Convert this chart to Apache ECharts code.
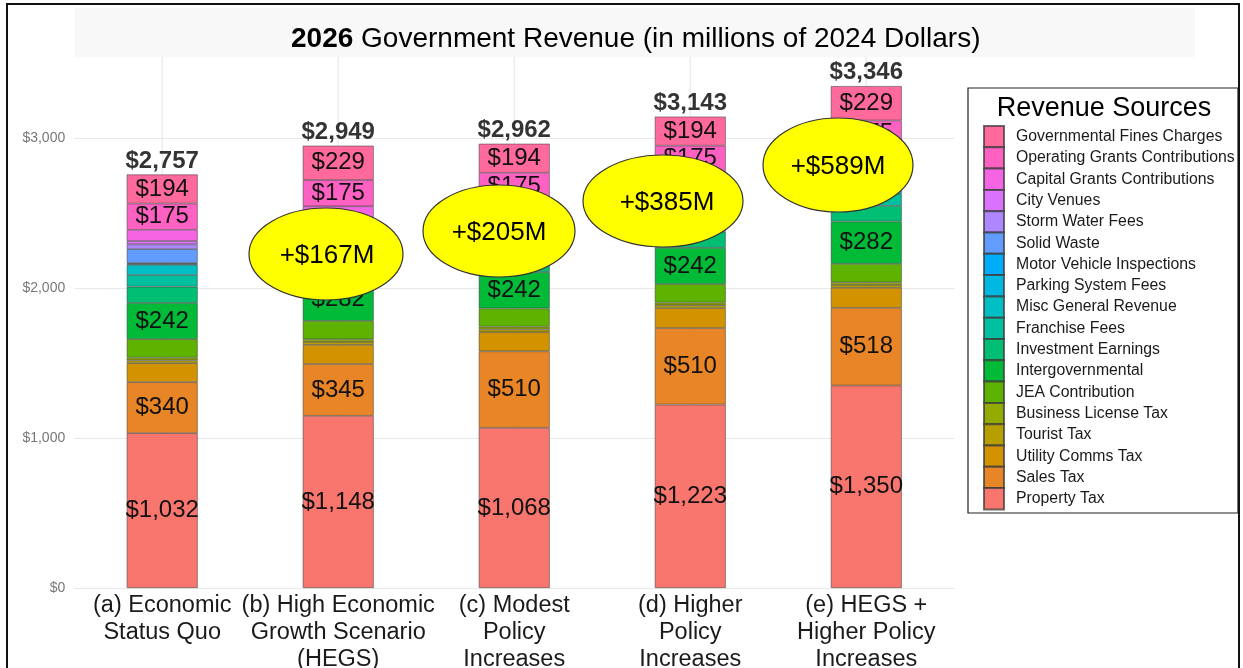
<!DOCTYPE html>
<html>
<head>
<meta charset="utf-8">
<script src="https://cdn.jsdelivr.net/npm/echarts@6/dist/echarts.min.js"></script>
<style>
  html, body { margin: 0; padding: 0; background: #fff; }
  #chart { width: 1243px; height: 668px; }
</style>
</head>
<body>
<div id="chart"></div>
<script>
// Scenario categories on the x axis
const scenarios = [
  '(a) Economic\nStatus Quo',
  '(b) High Economic\nGrowth Scenario\n(HEGS)',
  '(c) Modest\nPolicy\nIncreases',
  '(d) Higher\nPolicy\nIncreases',
  '(e) HEGS +\nHigher Policy\nIncreases'
];

// Revenue by source, millions of 2024 dollars, one value per scenario
const propertyTax             = [1032, 1148, 1068, 1223, 1350];
const salesTax                = [340, 345, 510, 510, 518];
const utilityCommsTax         = [127, 128, 127, 133, 133];
const touristTax              = [19, 19, 19, 19, 19];
const businessLicenseTax      = [18, 18, 18, 18, 18];
const jeaContribution         = [123, 123, 122, 123, 123];
const intergovernmental       = [242, 282, 242, 242, 282];
const investmentEarnings      = [108, 105, 108, 108, 105];
const franchiseFees           = [78, 77, 78, 78, 77];
const miscGeneralRevenue      = [67, 66, 67, 67, 66];
const parkingSystemFees       = [7, 7, 7, 7, 7];
const motorVehicleInspections = [6, 6, 6, 6, 6];
const solidWaste              = [92, 92, 92, 100, 100];
const stormWaterFees          = [32, 32, 32, 40, 40];
const cityVenues              = [22, 22, 22, 25, 25];
const capitalGrants           = [75, 75, 75, 75, 73];
const operatingGrants         = [175, 175, 175, 175, 175];
const governmentalFines       = [194, 229, 194, 194, 229];

// Increase over the status quo, shown in the callouts
const increaseLabels = ['', '+$167M', '+$205M', '+$385M', '+$589M'];

// Y axis ticks
const yTicks = [0, 1000, 2000, 3000];

// Stacking order, bottom to top: [name, values, show value label]
const sources = [
  ['Property Tax', propertyTax, true],
  ['Sales Tax', salesTax, true],
  ['Utility Comms Tax', utilityCommsTax, false],
  ['Tourist Tax', touristTax, false],
  ['Business License Tax', businessLicenseTax, false],
  ['JEA Contribution', jeaContribution, false],
  ['Intergovernmental', intergovernmental, true],
  ['Investment Earnings', investmentEarnings, false],
  ['Franchise Fees', franchiseFees, false],
  ['Misc General Revenue', miscGeneralRevenue, false],
  ['Parking System Fees', parkingSystemFees, false],
  ['Motor Vehicle Inspections', motorVehicleInspections, false],
  ['Solid Waste', solidWaste, false],
  ['Storm Water Fees', stormWaterFees, false],
  ['City Venues', cityVenues, false],
  ['Capital Grants Contributions', capitalGrants, false],
  ['Operating Grants Contributions', operatingGrants, true],
  ['Governmental Fines Charges', governmentalFines, true]
];

const FONT = "'Liberation Sans', Arial, Helvetica, sans-serif";

// Evenly spaced hues in HCL space (L=65, C=100), starting at 15 degrees
function hclHex(h, c, l) {
  const hr = h * Math.PI / 180;
  const u = c * Math.cos(hr), v = c * Math.sin(hr);
  const Xn = 95.047, Yn = 100, Zn = 108.883;
  const den = Xn + 15 * Yn + 3 * Zn;
  const un = 4 * Xn / den, vn = 9 * Yn / den;
  const Y = Yn * Math.pow((l + 16) / 116, 3);
  const up = u / (13 * l) + un, vp = v / (13 * l) + vn;
  const X = Y * 9 * up / (4 * vp);
  const Z = Y * (12 - 3 * up - 20 * vp) / (4 * vp);
  const x = X / 100, y = Y / 100, z = Z / 100;
  const lin = [
    3.240479 * x - 1.537150 * y - 0.498535 * z,
    -0.969256 * x + 1.875992 * y + 0.041556 * z,
    0.055648 * x - 0.204043 * y + 1.057311 * z
  ];
  return '#' + lin.map(t => {
    let s = t <= 0.0031308 ? 12.92 * t : 1.055 * Math.pow(t, 1 / 2.4) - 0.055;
    s = Math.min(1, Math.max(0, s));
    return Math.round(s * 255).toString(16).padStart(2, '0');
  }).join('');
}
const palette = sources.map((s, i) => hclHex(15 + 360 * i / sources.length, 100, 65));

const money = v => '$' + Number(v).toLocaleString('en-US');

const totals = scenarios.map((_, i) => sources.reduce((acc, s) => acc + s[1][i], 0));

const barSeries = sources.map(([name, values, labelled], i) => ({
  name,
  type: 'bar',
  stack: 'revenue',
  barWidth: 71,
  data: values,
  itemStyle: { color: palette[i], borderColor: 'rgba(60,60,60,0.75)', borderWidth: 0.7 },
  label: {
    show: labelled,
    position: 'inside',
    fontFamily: FONT,
    fontSize: 24,
    color: '#111',
    formatter: p => money(p.value)
  },
  emphasis: { disabled: true },
  z: 2
}));

const totalSeries = {
  name: 'Total',
  type: 'scatter',
  data: totals,
  symbolSize: 1,
  itemStyle: { color: 'rgba(0,0,0,0)' },
  label: {
    show: true,
    position: 'top',
    distance: 1,
    fontFamily: FONT,
    fontSize: 24,
    fontWeight: 'bold',
    color: '#000',
    formatter: p => money(p.value)
  },
  silent: true,
  z: 3
};

const chart = echarts.init(document.getElementById('chart'), null, { renderer: 'canvas' });

chart.setOption({
  animation: false,
  backgroundColor: '#fff',
  textStyle: { fontFamily: FONT },
  title: {
    text: '{b|2026} Government Revenue (in millions of 2024 Dollars)',
    left: 286,
    top: 20,
    textStyle: {
      fontFamily: FONT, fontSize: 28, fontWeight: 'normal', color: '#000',
      rich: { b: { fontFamily: FONT, fontSize: 28, fontWeight: 'bold', color: '#000' } }
    }
  },
  grid: {
    left: 74.2, right: 288.7, top: 57, bottom: 80,
    containLabel: false, outerBoundsMode: 'none'
  },
  xAxis: {
    type: 'category',
    data: scenarios,
    axisLine: { show: false },
    axisTick: { show: false },
    axisLabel: {
      interval: 0, margin: 4, fontFamily: FONT, fontSize: 23.5, lineHeight: 27, color: '#1a1a1a'
    },
    splitLine: { show: false }
  },
  yAxis: {
    type: 'value',
    min: yTicks[0],
    max: 3540,
    interval: yTicks[1] - yTicks[0],
    axisLine: { show: false },
    axisTick: { show: false },
    axisLabel: {
      margin: 9, fontFamily: FONT, fontSize: 14, color: '#777',
      showMaxLabel: false,
      formatter: v => (yTicks.includes(v) ? money(v) : '')
    },
    splitLine: { show: true, showMaxLine: false, lineStyle: { color: '#e8e8e8', width: 1.2 } }
  },
  legend: {
    orient: 'vertical',
    left: 983,
    top: 125,
    padding: 0,
    itemGap: -2,
    itemWidth: 20,
    itemHeight: 21.3,
    icon: 'rect',
    selectedMode: false,
    data: sources.map(s => s[0]).reverse(),
    textStyle: { fontFamily: FONT, fontSize: 15.8, color: '#1a1a1a', padding: [0, 0, 0, 7] }
  },
  series: [...barSeries, totalSeries]
});

// Overlay: frame, title band, category gridlines, legend box and callouts
const plotTop = chart.convertToPixel({ yAxisIndex: 0 }, 3540);
const plotBase = chart.convertToPixel({ yAxisIndex: 0 }, 0);
const centers = scenarios.map((_, i) => chart.convertToPixel({ xAxisIndex: 0 }, i));

const callouts = [
  null,
  { cx: 326, cy: 254, rx: 77, ry: 46, tx: 327, ty: 256 },
  { cx: 499, cy: 231, rx: 76, ry: 46, tx: 499, ty: 233 },
  { cx: 663, cy: 201, rx: 80, ry: 46, tx: 667, ty: 203 },
  { cx: 838, cy: 165, rx: 75, ry: 47, tx: 838, ty: 167 }
];

const graphics = [
  { type: 'rect', z: -10, silent: true,
    shape: { x: 75, y: 8, width: 1120, height: 49 },
    style: { fill: '#f8f8f8' } },
  ...centers.map(x => ({
    type: 'line', z: 0, silent: true,
    shape: { x1: x, y1: plotTop, x2: x, y2: plotBase },
    style: { stroke: '#e8e8e8', lineWidth: 1.2 }
  })),
  { type: 'rect', z: 0, silent: true,
    shape: { x: 968, y: 88, width: 270, height: 425 },
    style: { fill: '#fff', stroke: '#222', lineWidth: 1.2 } },
  { type: 'text', z: 10, silent: true, x: 1104, y: 109,
    style: { text: 'Revenue Sources', font: '27px ' + FONT, fill: '#000',
             textAlign: 'center', textVerticalAlign: 'middle' } },
  { type: 'rect', z: 100, silent: true,
    shape: { x: 7, y: 4, width: 1232, height: 700 },
    style: { fill: 'none', stroke: '#111', lineWidth: 2 } }
];

callouts.forEach((c, i) => {
  if (!c) return;
  graphics.push({
    type: 'ellipse', z: 50, silent: true,
    shape: { cx: c.cx, cy: c.cy, rx: c.rx, ry: c.ry },
    style: { fill: '#ffff00', stroke: '#333', lineWidth: 1.2 }
  });
  graphics.push({
    type: 'text', z: 51, silent: true, x: c.tx, y: c.ty,
    style: { text: increaseLabels[i], font: '26px ' + FONT, fill: '#000',
             textAlign: 'center', textVerticalAlign: 'middle' }
  });
});

chart.setOption({ graphic: graphics });
</script>
</body>
</html>
